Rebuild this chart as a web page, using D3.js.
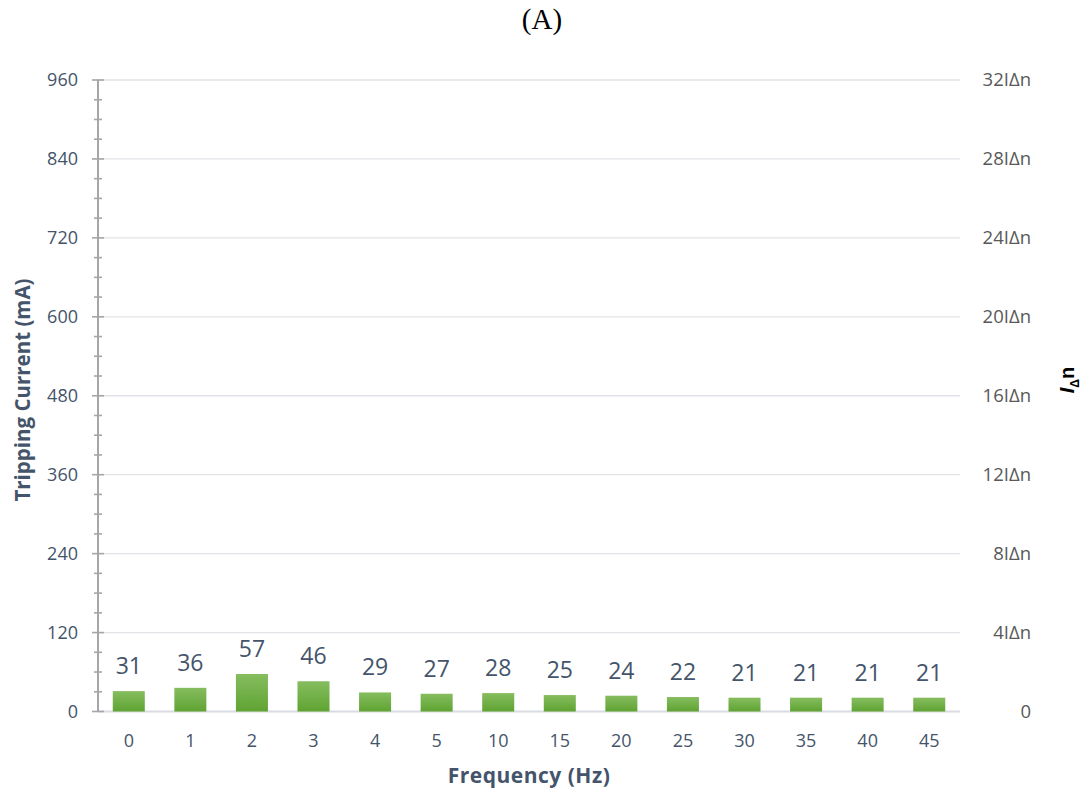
<!DOCTYPE html>
<html>
<head>
<meta charset="utf-8">
<script src="https://cdn.jsdelivr.net/npm/d3@7"></script>
<style>
  body { margin: 0; background: #fff; }
  svg { display: block; }
</style>
</head>
<body>
<svg id="chart" width="1092" height="796"></svg>
<script>
const categories = ["0", "1", "2", "3", "4", "5", "10", "15", "20", "25", "30", "35", "40", "45"];
const trippingCurrent = [31, 36, 57, 46, 29, 27, 28, 25, 24, 22, 21, 21, 21, 21];
const leftTicks = [0, 120, 240, 360, 480, 600, 720, 840, 960];
const rightTickLabels = ["0", "4IΔn", "8IΔn", "12IΔn", "16IΔn", "20IΔn", "24IΔn", "28IΔn", "32IΔn"];
const rightTickValues = [0, 4, 8, 12, 16, 20, 24, 28, 32];

const svg = d3.select("#chart");
const m = { left: 98, right: 960, top: 80, bottom: 711.5 };

const x = d3.scaleBand().domain(categories).range([m.left, m.right]).paddingInner(0.48).paddingOuter(0.24);
const y = d3.scaleLinear().domain([0, 960]).range([m.bottom, m.top]);
const y2 = d3.scaleLinear().domain([0, 32]).range([m.bottom, m.top]);

const defs = svg.append("defs");
const grad = defs.append("linearGradient").attr("id", "barGrad").attr("x1", 0).attr("y1", 0).attr("x2", 0).attr("y2", 1);
grad.append("stop").attr("offset", "0%").attr("stop-color", "#86bd5f");
grad.append("stop").attr("offset", "100%").attr("stop-color", "#5fa332");

// title
svg.append("text").attr("x", 542).attr("y", 29).attr("text-anchor", "middle")
  .style("font-family", "'Liberation Serif', 'Times New Roman', serif").style("font-size", "29px").attr("fill", "#000").text("(A)");

// gridlines
svg.append("g").selectAll("line").data(leftTicks.filter(d => d > 0)).join("line")
  .attr("x1", m.left).attr("x2", m.right).attr("y1", d => y(d)).attr("y2", d => y(d))
  .attr("stroke", "#e1e3e8").attr("stroke-width", 1.3);

// bottom axis line
svg.append("line").attr("x1", m.left).attr("x2", m.right).attr("y1", y(0)).attr("y2", y(0))
  .attr("stroke", "#d9dce3").attr("stroke-width", 2);

// left axis
const minor = d3.range(0, 961, 30);
const leftAxis = svg.append("g").attr("transform", `translate(${m.left},0)`);
leftAxis.append("line").attr("y1", y(960)).attr("y2", y(0)).attr("stroke", "#a6a6a6").attr("stroke-width", 2);
leftAxis.selectAll("line.tk").data(minor).join("line").attr("class", "tk")
  .attr("x1", d => d % 120 === 0 ? -6 : -4).attr("x2", d => d % 120 === 0 ? 6 : 4)
  .attr("y1", d => y(d)).attr("y2", d => y(d)).attr("stroke", "#a6a6a6").attr("stroke-width", 1.6);
leftAxis.selectAll("text").data(leftTicks).join("text")
  .attr("x", -20).attr("y", d => y(d)).attr("dy", "0.35em").attr("text-anchor", "end")
  .style("font-family", "'Open Sans', sans-serif").style("font-size", "18px").attr("fill", "#44546a")
  .text(d => d);

// right axis labels
svg.append("g").selectAll("text").data(rightTickValues).join("text")
  .attr("x", 1031).attr("y", d => y2(d)).attr("dy", "0.35em").attr("text-anchor", "end")
  .style("font-family", "'Open Sans', sans-serif").style("font-size", "18.5px").attr("fill", "#595959")
  .text((d, i) => rightTickLabels[i]);

// x tick labels
svg.append("g").selectAll("text").data(categories).join("text")
  .attr("x", d => x(d) + x.bandwidth() / 2).attr("y", 747).attr("text-anchor", "middle")
  .style("font-family", "'Open Sans', sans-serif").style("font-size", "18px").attr("fill", "#44546a")
  .text(d => d);

// bars
svg.append("g").selectAll("rect").data(trippingCurrent).join("rect")
  .attr("x", (d, i) => x(categories[i])).attr("width", x.bandwidth())
  .attr("y", d => y(d)).attr("height", d => y(0) - y(d))
  .attr("fill", "url(#barGrad)");

// value labels
svg.append("g").selectAll("text").data(trippingCurrent).join("text")
  .attr("x", (d, i) => x(categories[i]) + x.bandwidth() / 2).attr("y", d => y(d) - 17)
  .attr("text-anchor", "middle")
  .style("font-family", "'Open Sans', sans-serif").style("font-size", "23px").attr("fill", "#44546a")
  .text(d => d);

// axis titles
svg.append("text").attr("transform", "translate(30,390) rotate(-90)").attr("text-anchor", "middle")
  .style("font-family", "'Open Sans', sans-serif").style("font-size", "20.5px").style("font-weight", "bold")
  .attr("fill", "#44546a").text("Tripping Current (mA)");

svg.append("text").attr("x", 529).attr("y", 783).attr("text-anchor", "middle")
  .style("font-family", "'Open Sans', sans-serif").style("font-size", "21px").style("font-weight", "bold")
  .style("letter-spacing", "0.5px")
  .attr("fill", "#44546a").text("Frequency (Hz)");

const rt = svg.append("text").attr("transform", "translate(1074,380) rotate(-90)").attr("text-anchor", "middle")
  .style("font-family", "'Liberation Sans', Arial, sans-serif").style("font-size", "20px").style("font-weight", "bold")
  .attr("fill", "#000");
rt.append("tspan").style("font-style", "italic").text("I");
rt.append("tspan").attr("dy", 5).style("font-size", "12px").text("Δ");
rt.append("tspan").attr("dy", -5).text("n");
</script>
</body>
</html>
